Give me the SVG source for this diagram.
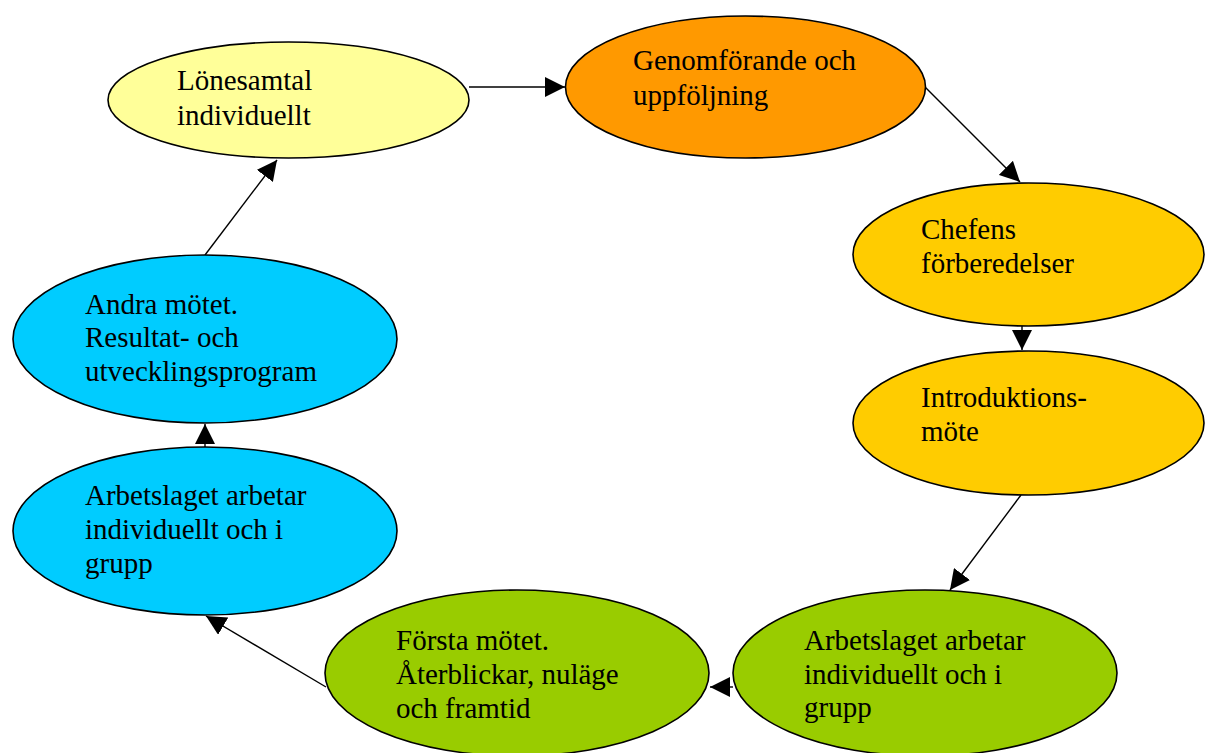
<svg xmlns="http://www.w3.org/2000/svg" width="1205" height="753" viewBox="0 0 1205 753">
<style>
.n{stroke:#000;stroke-width:1.6}
.t{font-family:"Liberation Serif","Times New Roman",serif;font-size:29px;fill:#000}
.c{stroke:#000;stroke-width:1.4;fill:none;marker-end:url(#ah)}
</style>
<defs>
<marker id="ah" viewBox="0 0 20 20" markerWidth="20" markerHeight="20" markerUnits="userSpaceOnUse" refX="20" refY="10" orient="auto">
<path d="M0,0 L20,10 L0,20 z" fill="#000"/>
</marker>
</defs>
<rect width="1205" height="753" fill="#fff"/>
<g id="connectors">
<line class="c" x1="469" y1="87" x2="565" y2="87"/>
<line class="c" x1="925" y1="87" x2="1020" y2="182"/>
<line class="c" x1="1022" y1="326" x2="1022" y2="350"/>
<line class="c" x1="1021" y1="495" x2="950" y2="590"/>
<line class="c" x1="733" y1="687" x2="710" y2="687"/>
<line class="c" x1="326" y1="687" x2="206" y2="616"/>
<line class="c" x1="205" y1="447" x2="205" y2="424"/>
<line class="c" x1="205" y1="255" x2="277" y2="160"/>
</g>
<g id="n1"><ellipse class="n" cx="288.5" cy="100" rx="180.5" ry="58" fill="#FFFF99"/>
<text class="t" x="177" y="90">Lönesamtal</text><text class="t" x="177" y="124.5">individuellt</text></g>
<g id="n2"><ellipse class="n" cx="745.5" cy="87" rx="180" ry="71" fill="#FF9900"/>
<text class="t" x="633" y="70">Genomförande och</text><text class="t" x="633" y="105">uppföljning</text></g>
<g id="n3"><ellipse class="n" cx="1028.5" cy="254.5" rx="175.5" ry="71.5" fill="#FFCC00"/>
<text class="t" x="921" y="239">Chefens</text><text class="t" x="921" y="272.5">förberedelser</text></g>
<g id="n4"><ellipse class="n" cx="1028.5" cy="423" rx="175.5" ry="72" fill="#FFCC00"/>
<text class="t" x="921" y="407">Introduktions-</text><text class="t" x="921" y="440.5">möte</text></g>
<g id="n5"><ellipse class="n" cx="925" cy="673" rx="192" ry="83" fill="#99CC00"/>
<text class="t" x="804" y="650">Arbetslaget arbetar</text><text class="t" x="804" y="683.5">individuellt och i</text><text class="t" x="804" y="717">grupp</text></g>
<g id="n6"><ellipse class="n" cx="517" cy="673" rx="192" ry="83" fill="#99CC00"/>
<text class="t" x="396" y="649.5">Första mötet.</text><text class="t" x="396" y="683.5">Återblickar, nuläge</text><text class="t" x="396" y="717.5">och framtid</text></g>
<g id="n7"><ellipse class="n" cx="205" cy="531" rx="192" ry="84" fill="#00CCFF"/>
<text class="t" x="85" y="505">Arbetslaget arbetar</text><text class="t" x="85" y="539">individuellt och i</text><text class="t" x="85" y="573">grupp</text></g>
<g id="n8"><ellipse class="n" cx="205" cy="339" rx="192" ry="84" fill="#00CCFF"/>
<text class="t" x="85" y="313.5">Andra mötet.</text><text class="t" x="85" y="347">Resultat- och</text><text class="t" x="85" y="381">utvecklingsprogram</text></g>
</svg>
